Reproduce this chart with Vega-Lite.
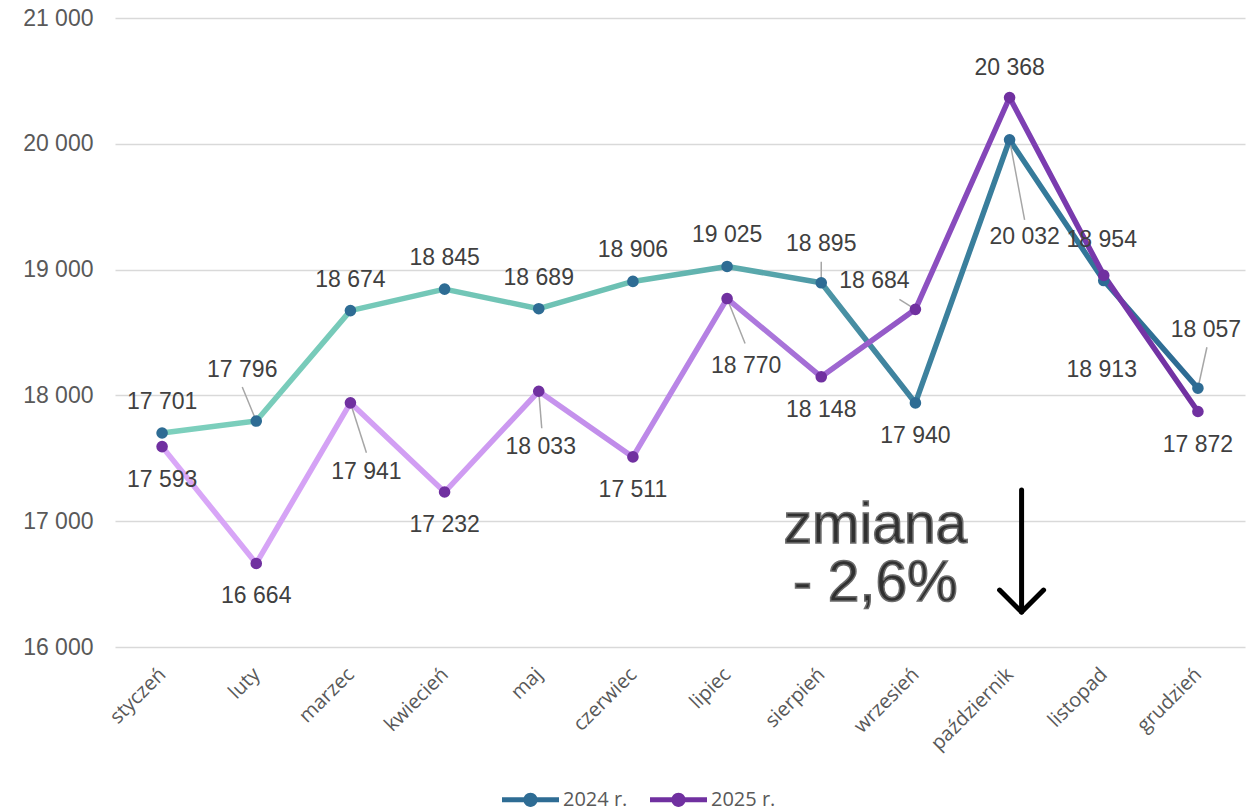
{
  "$schema": "https://vega.github.io/schema/vega-lite/v6.json",
  "width": 1130,
  "height": 629,
  "autosize": {"type": "none"},
  "padding": {"left": 115, "top": 18, "right": 8, "bottom": 164},
  "background": "white",
  "config": {
    "view": {"stroke": null},
    "legend": {
      "orient": "none",
      "legendX": 387,
      "legendY": 753,
      "direction": "horizontal",
      "title": null,
      "padding": 0,
      "labelFont": "Open Sans",
      "labelFontSize": 20,
      "labelColor": "#595959",
      "symbolType": "M-1,-0.09H1V0.09H-1Z M0.25,0A0.25,0.25,0,1,1,-0.25,0A0.25,0.25,0,1,1,0.25,0Z",
      "symbolSize": 3249,
      "symbolStrokeWidth": 0,
      "symbolOpacity": 1,
      "columnPadding": 22,
      "labelOffset": 4
    }
  },
  "layer": [
    {
      "data": {
        "values": [
          {"month": "styczeń", "year": "2024 r.", "value": 17701},
          {"month": "luty", "year": "2024 r.", "value": 17796},
          {"month": "marzec", "year": "2024 r.", "value": 18674},
          {"month": "kwiecień", "year": "2024 r.", "value": 18845},
          {"month": "maj", "year": "2024 r.", "value": 18689},
          {"month": "czerwiec", "year": "2024 r.", "value": 18906},
          {"month": "lipiec", "year": "2024 r.", "value": 19025},
          {"month": "sierpień", "year": "2024 r.", "value": 18895},
          {"month": "wrzesień", "year": "2024 r.", "value": 17940},
          {"month": "październik", "year": "2024 r.", "value": 20032},
          {"month": "listopad", "year": "2024 r.", "value": 18913},
          {"month": "grudzień", "year": "2024 r.", "value": 18057},
          {"month": "styczeń", "year": "2025 r.", "value": 17593},
          {"month": "luty", "year": "2025 r.", "value": 16664},
          {"month": "marzec", "year": "2025 r.", "value": 17941},
          {"month": "kwiecień", "year": "2025 r.", "value": 17232},
          {"month": "maj", "year": "2025 r.", "value": 18033},
          {"month": "czerwiec", "year": "2025 r.", "value": 17511},
          {"month": "lipiec", "year": "2025 r.", "value": 18770},
          {"month": "sierpień", "year": "2025 r.", "value": 18148},
          {"month": "wrzesień", "year": "2025 r.", "value": 18684},
          {"month": "październik", "year": "2025 r.", "value": 20368},
          {"month": "listopad", "year": "2025 r.", "value": 18954},
          {"month": "grudzień", "year": "2025 r.", "value": 17872}
        ]
      },
      "transform": [
        {"calculate": "replace(format(datum.value, ','), ',', ' ')", "as": "label"}
      ],
      "encoding": {
        "x": {
          "field": "month",
          "type": "nominal",
          "scale": {"type": "point", "padding": 0.5, "domain": ["styczeń", "luty", "marzec", "kwiecień", "maj", "czerwiec", "lipiec", "sierpień", "wrzesień", "październik", "listopad", "grudzień"]},
          "axis": {
            "title": null,
            "domain": false,
            "ticks": false,
            "grid": false,
            "labelAngle": -45,
            "labelAlign": "right",
            "labelBaseline": "middle",
            "labelPadding": 24,
            "labelFont": "Open Sans",
            "labelFontSize": 20,
            "labelColor": "#595959"
          }
        },
        "y": {
          "field": "value",
          "type": "quantitative",
          "scale": {"domain": [16000, 21000], "nice": false, "zero": false},
          "axis": {
            "title": null,
            "domain": false,
            "ticks": false,
            "grid": true,
            "gridColor": "#d9d9d9",
            "gridWidth": 1.5,
            "values": [16000, 17000, 18000, 19000, 20000, 21000],
            "labelExpr": "replace(format(datum.value, ','), ',', ' ')",
            "labelFont": "Liberation Sans",
            "labelFontSize": 23,
            "labelColor": "#595959",
            "labelPadding": 22
          }
        }
      },
      "layer": [
        {
          "transform": [{"filter": {"field": "year", "equal": "2024 r."}}],
          "mark": {
            "type": "line",
            "strokeWidth": 5.5,
            "strokeCap": "round",
            "strokeJoin": "round",
            "stroke": {
              "gradient": "linear", "x1": 0, "y1": 0, "x2": 1, "y2": 0,
              "stops": [
                {"offset": 0, "color": "#7dd0bd"},
                {"offset": 0.45, "color": "#6cc0b3"},
                {"offset": 0.6, "color": "#55a2aa"},
                {"offset": 0.7, "color": "#40849f"},
                {"offset": 0.85, "color": "#357a9a"},
                {"offset": 1, "color": "#2d6a93"}
              ]
            }
          }
        },
        {
          "transform": [{"filter": {"field": "year", "equal": "2025 r."}}],
          "mark": {
            "type": "line",
            "strokeWidth": 5.5,
            "strokeCap": "round",
            "strokeJoin": "round",
            "stroke": {
              "gradient": "linear", "x1": 0, "y1": 0, "x2": 1, "y2": 0,
              "stops": [
                {"offset": 0, "color": "#daa8f8"},
                {"offset": 0.3, "color": "#cf9cf2"},
                {"offset": 0.5, "color": "#b985e6"},
                {"offset": 0.6, "color": "#a873d9"},
                {"offset": 0.75, "color": "#8b4ebf"},
                {"offset": 0.85, "color": "#7b3cb0"},
                {"offset": 1, "color": "#7030a0"}
              ]
            }
          }
        },
        {
          "transform": [{"filter": {"and": [{"field": "year", "equal": "2024 r."}, {"field": "month", "equal": "luty"}]}}],
          "mark": {"type": "rule", "color": "#a6a6a6", "strokeWidth": 1.5, "x2Offset": -14, "y2Offset": -34},
          "encoding": {"x2": {"field": "month"}, "y2": {"field": "value"}}
        },
        {
          "transform": [{"filter": {"and": [{"field": "year", "equal": "2024 r."}, {"field": "month", "equal": "sierpień"}]}}],
          "mark": {"type": "rule", "color": "#a6a6a6", "strokeWidth": 1.5, "x2Offset": 0, "y2Offset": -21},
          "encoding": {"x2": {"field": "month"}, "y2": {"field": "value"}}
        },
        {
          "transform": [{"filter": {"and": [{"field": "year", "equal": "2024 r."}, {"field": "month", "equal": "październik"}]}}],
          "mark": {"type": "rule", "color": "#a6a6a6", "strokeWidth": 1.5, "x2Offset": 15, "y2Offset": 80},
          "encoding": {"x2": {"field": "month"}, "y2": {"field": "value"}}
        },
        {
          "transform": [{"filter": {"and": [{"field": "year", "equal": "2024 r."}, {"field": "month", "equal": "grudzień"}]}}],
          "mark": {"type": "rule", "color": "#a6a6a6", "strokeWidth": 1.5, "x2Offset": 9, "y2Offset": -41},
          "encoding": {"x2": {"field": "month"}, "y2": {"field": "value"}}
        },
        {
          "transform": [{"filter": {"and": [{"field": "year", "equal": "2025 r."}, {"field": "month", "equal": "marzec"}]}}],
          "mark": {"type": "rule", "color": "#a6a6a6", "strokeWidth": 1.5, "x2Offset": 16, "y2Offset": 50},
          "encoding": {"x2": {"field": "month"}, "y2": {"field": "value"}}
        },
        {
          "transform": [{"filter": {"and": [{"field": "year", "equal": "2025 r."}, {"field": "month", "equal": "maj"}]}}],
          "mark": {"type": "rule", "color": "#a6a6a6", "strokeWidth": 1.5, "x2Offset": 3, "y2Offset": 37},
          "encoding": {"x2": {"field": "month"}, "y2": {"field": "value"}}
        },
        {
          "transform": [{"filter": {"and": [{"field": "year", "equal": "2025 r."}, {"field": "month", "equal": "lipiec"}]}}],
          "mark": {"type": "rule", "color": "#a6a6a6", "strokeWidth": 1.5, "x2Offset": 18, "y2Offset": 45},
          "encoding": {"x2": {"field": "month"}, "y2": {"field": "value"}}
        },
        {
          "transform": [{"filter": {"and": [{"field": "year", "equal": "2025 r."}, {"field": "month", "equal": "wrzesień"}]}}],
          "mark": {"type": "rule", "color": "#a6a6a6", "strokeWidth": 1.5, "x2Offset": -16, "y2Offset": -10},
          "encoding": {"x2": {"field": "month"}, "y2": {"field": "value"}}
        },
        {
          "mark": {"type": "point", "filled": true, "size": 135, "opacity": 1},
          "encoding": {
            "color": {
              "field": "year",
              "type": "nominal",
              "scale": {"domain": ["2024 r.", "2025 r."], "range": ["#2e6c94", "#7030a0"]},
              "legend": {}
            }
          }
        },
        {
          "transform": [{"filter": {"and": [{"field": "year", "equal": "2024 r."}, {"field": "month", "oneOf": ["styczeń", "marzec", "kwiecień", "maj", "czerwiec", "lipiec"]}]}}],
          "mark": {"type": "text", "dy": -31, "font": "Liberation Sans", "fontSize": 23, "fill": "#404040", "baseline": "middle"},
          "encoding": {"text": {"field": "label"}}
        },
        {
          "transform": [{"filter": {"and": [{"field": "year", "equal": "2024 r."}, {"field": "month", "equal": "luty"}]}}],
          "mark": {"type": "text", "dx": -14, "dy": -51, "font": "Liberation Sans", "fontSize": 23, "fill": "#404040", "baseline": "middle"},
          "encoding": {"text": {"field": "label"}}
        },
        {
          "transform": [{"filter": {"and": [{"field": "year", "equal": "2024 r."}, {"field": "month", "equal": "sierpień"}]}}],
          "mark": {"type": "text", "dy": -39, "font": "Liberation Sans", "fontSize": 23, "fill": "#404040", "baseline": "middle"},
          "encoding": {"text": {"field": "label"}}
        },
        {
          "transform": [{"filter": {"and": [{"field": "year", "equal": "2024 r."}, {"field": "month", "equal": "wrzesień"}]}}],
          "mark": {"type": "text", "dy": 33, "font": "Liberation Sans", "fontSize": 23, "fill": "#404040", "baseline": "middle"},
          "encoding": {"text": {"field": "label"}}
        },
        {
          "transform": [{"filter": {"and": [{"field": "year", "equal": "2024 r."}, {"field": "month", "equal": "październik"}]}}],
          "mark": {"type": "text", "dx": 15, "dy": 97, "font": "Liberation Sans", "fontSize": 23, "fill": "#404040", "baseline": "middle"},
          "encoding": {"text": {"field": "label"}}
        },
        {
          "transform": [{"filter": {"and": [{"field": "year", "equal": "2024 r."}, {"field": "month", "equal": "listopad"}]}}],
          "mark": {"type": "text", "dx": -2, "dy": 89, "font": "Liberation Sans", "fontSize": 23, "fill": "#404040", "baseline": "middle"},
          "encoding": {"text": {"field": "label"}}
        },
        {
          "transform": [{"filter": {"and": [{"field": "year", "equal": "2024 r."}, {"field": "month", "equal": "grudzień"}]}}],
          "mark": {"type": "text", "dx": 8, "dy": -58, "font": "Liberation Sans", "fontSize": 23, "fill": "#404040", "baseline": "middle"},
          "encoding": {"text": {"field": "label"}}
        },
        {
          "transform": [{"filter": {"and": [{"field": "year", "equal": "2025 r."}, {"field": "month", "oneOf": ["styczeń", "luty", "kwiecień", "czerwiec", "sierpień", "grudzień"]}]}}],
          "mark": {"type": "text", "dy": 33, "font": "Liberation Sans", "fontSize": 23, "fill": "#404040", "baseline": "middle"},
          "encoding": {"text": {"field": "label"}}
        },
        {
          "transform": [{"filter": {"and": [{"field": "year", "equal": "2025 r."}, {"field": "month", "equal": "październik"}]}}],
          "mark": {"type": "text", "dy": -30, "font": "Liberation Sans", "fontSize": 23, "fill": "#404040", "baseline": "middle"},
          "encoding": {"text": {"field": "label"}}
        },
        {
          "transform": [{"filter": {"and": [{"field": "year", "equal": "2025 r."}, {"field": "month", "equal": "listopad"}]}}],
          "mark": {"type": "text", "dx": -2, "dy": -35, "font": "Liberation Sans", "fontSize": 23, "fill": "#404040", "baseline": "middle"},
          "encoding": {"text": {"field": "label"}}
        },
        {
          "transform": [{"filter": {"and": [{"field": "year", "equal": "2025 r."}, {"field": "month", "equal": "marzec"}]}}],
          "mark": {"type": "text", "dx": 16, "dy": 69, "font": "Liberation Sans", "fontSize": 23, "fill": "#404040", "baseline": "middle"},
          "encoding": {"text": {"field": "label"}}
        },
        {
          "transform": [{"filter": {"and": [{"field": "year", "equal": "2025 r."}, {"field": "month", "equal": "maj"}]}}],
          "mark": {"type": "text", "dx": 2, "dy": 56, "font": "Liberation Sans", "fontSize": 23, "fill": "#404040", "baseline": "middle"},
          "encoding": {"text": {"field": "label"}}
        },
        {
          "transform": [{"filter": {"and": [{"field": "year", "equal": "2025 r."}, {"field": "month", "equal": "lipiec"}]}}],
          "mark": {"type": "text", "dx": 19, "dy": 67, "font": "Liberation Sans", "fontSize": 23, "fill": "#404040", "baseline": "middle"},
          "encoding": {"text": {"field": "label"}}
        },
        {
          "transform": [{"filter": {"and": [{"field": "year", "equal": "2025 r."}, {"field": "month", "equal": "wrzesień"}]}}],
          "mark": {"type": "text", "dx": -41, "dy": -28, "font": "Liberation Sans", "fontSize": 23, "fill": "#404040", "baseline": "middle"},
          "encoding": {"text": {"field": "label"}}
        }
      ]
    },
    {
      "data": {"values": [{"month": "wrzesień", "level": 16827, "note": "zmiana"}]},
      "mark": {
        "type": "text",
        "text": ["zmiana", "- 2,6%"],
        "font": "Liberation Sans",
        "fontSize": 57,
        "lineHeight": 58,
        "align": "center",
        "baseline": "alphabetic",
        "fill": "#303030",
        "stroke": "#6e6e6e",
        "strokeWidth": 1.5,
        "dx": -40
      },
      "encoding": {
        "x": {"field": "month", "type": "nominal"},
        "y": {"field": "level", "type": "quantitative"}
      }
    },
    {
      "data": {"values": [{"month": "październik", "top": 17248, "tip": 16278}]},
      "mark": {"type": "rule", "color": "#000000", "strokeWidth": 5, "strokeCap": "round", "xOffset": 12},
      "encoding": {
        "x": {"field": "month", "type": "nominal"},
        "y": {"field": "top", "type": "quantitative"},
        "y2": {"field": "tip"}
      }
    },
    {
      "data": {"values": [{"month": "październik", "tip": 16278}]},
      "mark": {
        "type": "point",
        "shape": "M-1,-1L0,0L1,-1",
        "size": 1936,
        "filled": false,
        "stroke": "#000000",
        "strokeWidth": 5,
        "strokeCap": "round",
        "strokeJoin": "round",
        "opacity": 1,
        "xOffset": 12
      },
      "encoding": {
        "x": {"field": "month", "type": "nominal"},
        "y": {"field": "tip", "type": "quantitative"}
      }
    }
  ]
}
